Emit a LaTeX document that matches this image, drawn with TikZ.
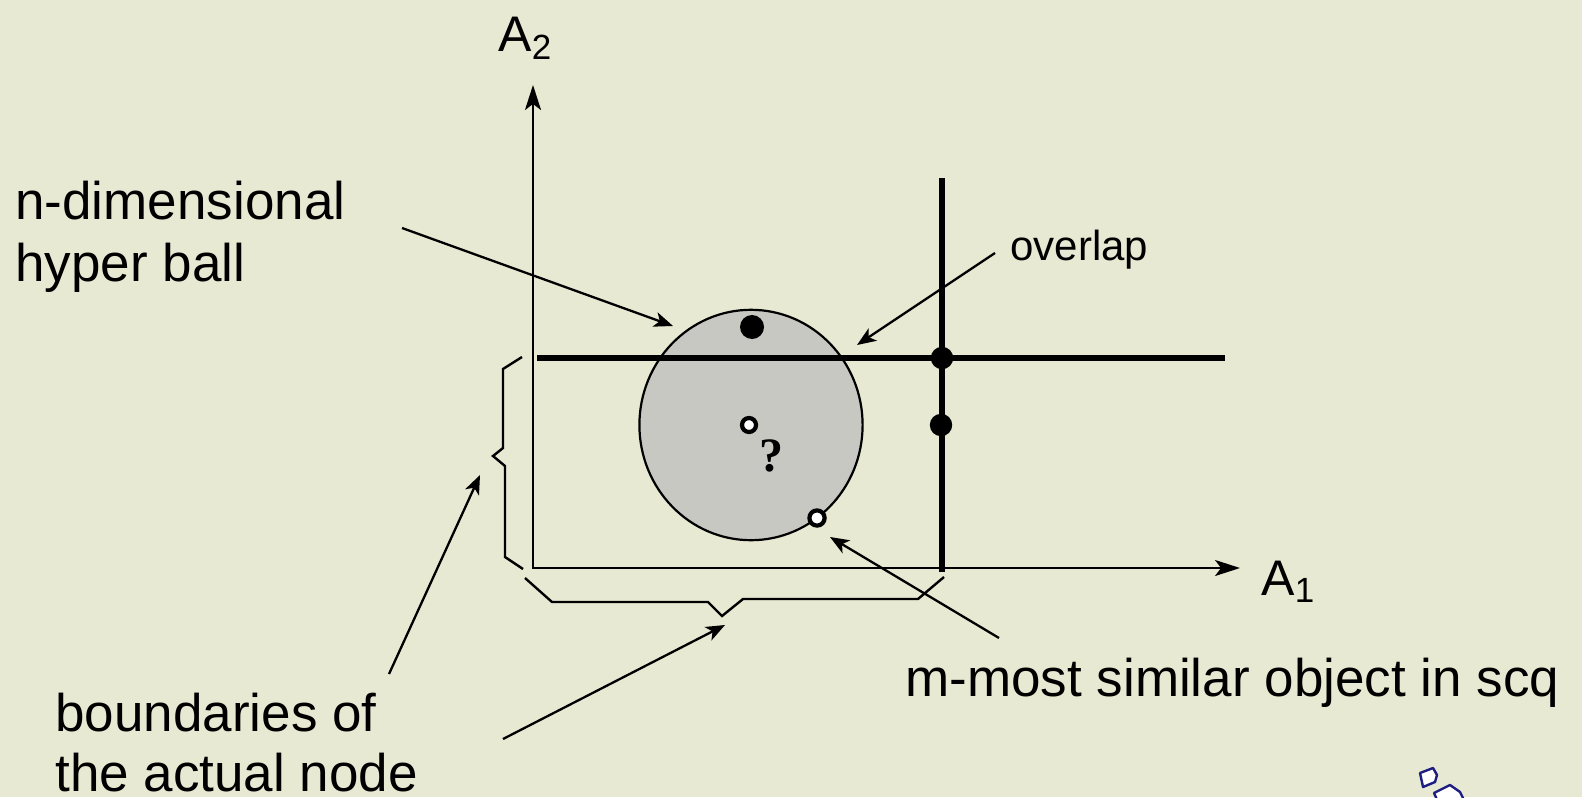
\documentclass[tikz,border=0pt]{standalone}
\usepackage{fontspec}
\setmainfont{Liberation Sans}
\setsansfont{Liberation Sans}
\newfontfamily\qfont{Liberation Serif}
\usetikzlibrary{arrows.meta}
\definecolor{bg}{RGB}{232,233,210}
\definecolor{ballfill}{RGB}{200,200,194}
\definecolor{iconblue}{RGB}{30,30,130}
\begin{document}
\begin{tikzpicture}[x=0.5pt,y=-0.5pt,
  lbl/.style={inner sep=0pt, anchor=base west, font=\fontsize{26.5}{32}\selectfont},
  smalllbl/.style={inner sep=0pt, anchor=base west, font=\fontsize{21}{25}\selectfont},
  axlbl/.style={inner sep=0pt, anchor=base west, font=\fontsize{25}{30}\selectfont},
  tip/.style={-{Stealth[length=9.5pt,width=7.5pt,inset=2.5pt]}},
  arr/.style={line width=1.15pt, tip},
  thin/.style={line width=1.1pt},
  thick/.style={line width=2.6pt},
  bracket/.style={line width=1.2pt, line join=miter},
  fulldot/.style={fill=black},
  opendot/.style={fill=white, draw=black, line width=2.1pt},
  icon/.style={draw=iconblue, fill=white, line width=1.2pt, line join=round}]
\useasboundingbox (0,0) rectangle (1582,797);
\fill[bg] (0,0) rectangle (1582,797);

% hyper ball
\filldraw[fill=ballfill, draw=black, line width=1.1pt] (751,425) ellipse [x radius=55.8pt, y radius=57.6pt];

% axes
\coordinate (o) at (533,568);
\coordinate (a2tip) at (533,85);
\coordinate (a1tip) at (1240,568);
\draw[thin, {Stealth[length=12.5pt,width=8pt,inset=3pt]}-{Stealth[length=12.5pt,width=8pt,inset=3pt]}] (a2tip) -- (o) -- (a1tip);
\node[axlbl] (A2) at (498,52) {A\textsubscript{2}};
\node[axlbl] (A1) at (1261,595) {A\textsubscript{1}};

% thick lines
\coordinate (h0) at (537,358);
\coordinate (h1) at (1225,358);
\coordinate (v0) at (942,178);
\coordinate (v1) at (942,572);
\draw[thick] (h0) -- (h1);
\draw[thick] (v0) -- (v1);

% points
\fill[fulldot] (752,327) circle[radius=6pt];
\fill[fulldot] (942,358) circle[radius=5.6pt];
\fill[fulldot] (941,425) circle[radius=5.6pt];
\filldraw[opendot] (749,425) circle[radius=3.5pt];
\filldraw[opendot] (817,518) circle[radius=3.8pt];
\node[inner sep=0pt, font=\qfont\bfseries\fontsize{24}{28}\selectfont] (q) at (771,456) {?};

% brackets
\draw[bracket] (522,357) -- (503,369) -- (503,448) -- (493,456) -- (505,466) -- (505,557) -- (523,569);
\draw[bracket] (525,578) -- (552,602) -- (708,602) -- (722,616) -- (743,599) -- (918,599) -- (944,577);

% labels
\node[lbl] (nd1) at (15,219) {n-dimensional};
\node[lbl] (nd2) at (15,281) {hyper ball};
\node[smalllbl] (ov) at (1010,260) {overlap};
\node[lbl] (mm) at (905,696) {m-most similar object in scq};
\node[lbl] (bd1) at (55,731) {boundaries of};
\node[lbl] (bd2) at (55,791) {the actual node};

% arrows
\coordinate (ndS) at (402,228);
\coordinate (ndE) at (673,326);
\coordinate (ovS) at (995,253);
\coordinate (ovE) at (857,345);
\coordinate (mmS) at (999,638);
\coordinate (mmE) at (830,537);
\coordinate (b1S) at (389,674);
\coordinate (b1E) at (480,475);
\coordinate (b2S) at (503,739);
\coordinate (b2E) at (725,625);
\draw[arr] (ndS) -- (ndE);
\draw[arr] (ovS) -- (ovE);
\draw[arr] (mmS) -- (mmE);
\draw[arr] (b1S) -- (b1E);
\draw[arr] (b2S) -- (b2E);

% cursor icon
\draw[icon] (1420,773) -- (1433,768) -- (1437,775) -- (1435,782) -- (1423,787) -- cycle;
\draw[icon] (1434,793) -- (1450,785) -- (1460,792) -- (1464,800) -- (1438,802) -- cycle;
\end{tikzpicture}
\end{document}
